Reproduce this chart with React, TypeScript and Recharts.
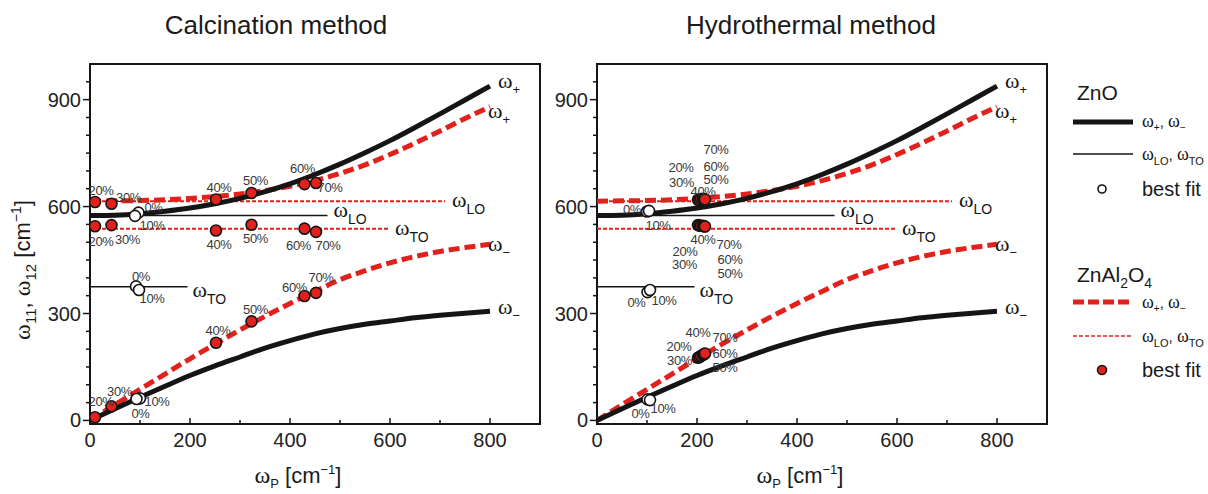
import React from "react";
import { ComposedChart, Line, Scatter, XAxis, YAxis, ReferenceArea } from "recharts";

// plasma frequency grid and coupled mode branches [cm-1]
const omegaP = [0, 50, 100, 150, 200, 250, 300, 350, 400, 450, 500, 550, 600, 650, 700, 750, 800];
const znoPlus = [575, 576, 580, 587, 596, 608, 623, 642, 664, 690, 719, 751, 785, 822, 860, 899, 938];
const znoMinus = [0, 33, 65, 96, 126, 153, 178, 203, 224, 243, 258, 270, 279, 288, 295, 301, 306];
const spinelPlus = [615, 616, 617, 619, 623, 628, 635, 645, 657, 673, 693, 717, 746, 778, 812, 847, 880];
const spinelMinus = [0, 44, 87, 130, 173, 214, 254, 292, 328, 362, 395, 420, 442, 460, 474, 485, 494];

// phonon levels and how far their lines run
const ZNO_LO = 575;
const ZNO_TO = 375;
const SPINEL_LO = 615;
const SPINEL_TO = 538;
const ZNO_LO_END = 475;
const ZNO_TO_END = 195;
const SPINEL_LO_END = 710;
const SPINEL_TO_END = 600;

const xTicks = [0, 100, 200, 300, 400, 500, 600, 700, 800, 900];
const xTickLabels = [0, 200, 400, 600, 800];
const yTicks = [0, 50, 100, 150, 200, 250, 300, 350, 400, 450, 500, 550, 600, 650, 700, 750, 800, 850, 900, 950];
const yTickLabels = [0, 300, 600, 900];

// best fit points, calcination
const calcZnoX = [97, 90, 92, 98, 100, 93];
const calcZnoY = [583, 574, 376, 366, 62, 60];
const calcZnoLabels = ["0%", "10%", "0%", "10%", "10%", "0%"];
const calcSpinelX = [10, 43, 252, 323, 429, 452, 10, 43, 252, 323, 429, 452, 10, 43, 252, 323, 429, 452];
const calcSpinelY = [613, 608, 620, 638, 663, 666, 545, 548, 533, 549, 538, 529, 9, 40, 218, 278, 349, 358];
const spinelLabels = ["20%", "30%", "40%", "50%", "60%", "70%", "20%", "30%", "40%", "50%", "60%", "70%", "20%", "30%", "40%", "50%", "60%", "70%"];

// best fit points, hydrothermal
const hydroZnoX = [100, 104, 101, 106, 101, 106];
const hydroZnoY = [586, 588, 360, 366, 59, 57];
const hydroZnoLabels = ["0%", "10%", "0%", "10%", "0%", "10%"];
const hydroSpinelX = [202, 205, 208, 212, 214, 216, 202, 205, 208, 212, 214, 216, 202, 205, 208, 212, 214, 216];
const hydroSpinelY = [619, 618, 621, 622, 621, 620, 548, 547, 546, 546, 545, 544, 176, 178, 181, 184, 186, 188];

// label shifts (px) of the percentage tags
const calcZnoShift = [[15, -1], [17, 14], [5, -5], [13, 13], [17, 8], [4, 19]];
const calcSpinelShift = [
  [6, -7], [17, -2], [3, -7], [4, -8], [-2, -11], [14, 9],
  [6, 20], [16, 19], [3, 19], [4, 18], [-6, 21], [12, 18],
  [6, -11], [8, -10], [2, -8], [4, -7], [-10, -4], [5, -11],
];
const hydroZnoShift = [[-15, 2], [9, 19], [-11, 15], [14, 15], [-7, 19], [13, 13]];
const hydroSpinelShift = [
  [-17, -28], [-18, -13], [2, -3], [13, -15], [12, -28], [11, -45],
  [-13, 31], [-15, 44], [2, 18], [27, 52], [26, 38], [24, 22],
  [-19, -7], [-20, 8], [-3, -19], [22, 17], [21, 4], [20, -11],
];

const SANS = "'Liberation Sans', Arial, sans-serif";
const NARROW = "'Liberation Sans Narrow', 'Liberation Sans', Arial, sans-serif";
const SERIF = "'Liberation Serif', 'Times New Roman', serif";
const RED = "#e3211c";
const INK = "#151515";

const curve = (ys: number[]) => omegaP.map((x, i) => ({ x, y: ys[i] }));
const level = (y: number, end: number) => [{ x: 0, y }, { x: end, y }];
const fitPoints = (xs: number[], ys: number[], labels: string[], shift: number[][]) =>
  xs.map((x, i) => ({ x, y: ys[i], label: labels[i], dx: shift[i][0], dy: shift[i][1] }));

const last = omegaP.length - 1;
const curveLabels = [
  { x: omegaP[last], y: znoPlus[last], sub: "+", dx: 8, dy: 2 },
  { x: omegaP[last], y: spinelPlus[last], sub: "+", dx: -2, dy: 11 },
  { x: omegaP[last], y: spinelMinus[last], sub: "\u2212", dx: -2, dy: 7 },
  { x: omegaP[last], y: znoMinus[last], sub: "\u2212", dx: 8, dy: 3 },
  { x: ZNO_LO_END, y: ZNO_LO, sub: "LO", dx: 6, dy: 2 },
  { x: SPINEL_LO_END, y: SPINEL_LO, sub: "LO", dx: 7, dy: 6 },
  { x: SPINEL_TO_END, y: SPINEL_TO, sub: "TO", dx: 5, dy: 6 },
  { x: ZNO_TO_END, y: ZNO_TO, sub: "TO", dx: 5, dy: 10 },
];

function XTick(props: any) {
  const { x, y, payload } = props;
  const v = payload.value;
  const major = xTickLabels.includes(v);
  return (
    <g>
      <line x1={x} x2={x} y1={y} y2={y - (major ? 6 : 4)} stroke={INK} strokeWidth={1.5} />
      {major && (
        <text x={x} y={y + 23} textAnchor="middle" fontSize={20} fontFamily={NARROW} fill="#222">
          {v}
        </text>
      )}
    </g>
  );
}

function YTick(props: any) {
  const { x, y, payload } = props;
  const v = payload.value;
  const major = yTickLabels.includes(v);
  return (
    <g>
      <line x1={x} x2={x - (major ? 7 : 4)} y1={y} y2={y} stroke={INK} strokeWidth={1.5} />
      {major && (
        <text x={x - 9} y={y + 7} textAnchor="end" fontSize={20} fontFamily={NARROW} fill="#222">
          {v}
        </text>
      )}
    </g>
  );
}

function Omega({ x, y, sub }: any) {
  const small = sub === "+" || sub === "\u2212";
  return (
    <text x={x} y={y} fill={INK}>
      <tspan fontFamily={SERIF} fontSize={22}>
        {"\u03c9"}
      </tspan>
      <tspan fontFamily={SANS} fontSize={small ? 13 : 14} dy={small ? 6 : 7}>
        {sub}
      </tspan>
    </text>
  );
}

const curveLabelShape = (p: any) => (
  <Omega x={p.cx + p.payload.dx} y={p.cy + p.payload.dy} sub={p.payload.sub} />
);

const fitShape = (fill: string) => (p: any) => (
  <circle cx={p.cx} cy={p.cy} r={5.5} fill={fill} stroke={INK} strokeWidth={1.6} />
);

const tagShape = (p: any) => (
  <text
    x={p.cx + p.payload.dx}
    y={p.cy + p.payload.dy}
    textAnchor="middle"
    fontSize={13}
    fontFamily={NARROW}
    letterSpacing={-0.4}
    fill="#383838"
  >
    {p.payload.label}
  </text>
);

function Panel({ left, zno, spinel }: { left: number; zno: any[]; spinel: any[] }) {
  return (
    <div style={{ position: "absolute", left, top: 0 }}>
      <ComposedChart width={545} height={494} margin={{ top: 64, right: 5, bottom: 30, left: 50 }}>
        <XAxis
          type="number"
          dataKey="x"
          domain={[0, 900]}
          ticks={xTicks}
          interval={0}
          allowDataOverflow
          height={40}
          axisLine={false}
          tickLine={false}
          tickSize={0}
          tickMargin={0}
          tick={(p: any) => <XTick {...p} />}
        />
        <YAxis
          type="number"
          dataKey="y"
          domain={[-10, 1000]}
          ticks={yTicks}
          interval={0}
          allowDataOverflow
          width={40}
          axisLine={false}
          tickLine={false}
          tickSize={0}
          tickMargin={0}
          tick={(p: any) => <YTick {...p} />}
        />
        <ReferenceArea x1={0} x2={900} y1={-10} y2={1000} fill="none" fillOpacity={0} stroke={INK} strokeWidth={2} strokeOpacity={1} />

        <Line data={level(SPINEL_LO, SPINEL_LO_END)} dataKey="y" type="linear" stroke={RED} strokeWidth={2} strokeDasharray="4 2" dot={false} activeDot={false} isAnimationActive={false} />
        <Line data={level(SPINEL_TO, SPINEL_TO_END)} dataKey="y" type="linear" stroke={RED} strokeWidth={2} strokeDasharray="4 2" dot={false} activeDot={false} isAnimationActive={false} />
        <Line data={level(ZNO_LO, ZNO_LO_END)} dataKey="y" type="linear" stroke={INK} strokeWidth={1.5} dot={false} activeDot={false} isAnimationActive={false} />
        <Line data={level(ZNO_TO, ZNO_TO_END)} dataKey="y" type="linear" stroke={INK} strokeWidth={1.5} dot={false} activeDot={false} isAnimationActive={false} />

        <Line data={curve(spinelPlus)} dataKey="y" type="monotone" stroke={RED} strokeWidth={5} strokeDasharray="11 5" dot={false} activeDot={false} isAnimationActive={false} />
        <Line data={curve(spinelMinus)} dataKey="y" type="monotone" stroke={RED} strokeWidth={5} strokeDasharray="11 5" dot={false} activeDot={false} isAnimationActive={false} />
        <Line data={curve(znoPlus)} dataKey="y" type="monotone" stroke={INK} strokeWidth={5} dot={false} activeDot={false} isAnimationActive={false} />
        <Line data={curve(znoMinus)} dataKey="y" type="monotone" stroke={INK} strokeWidth={5} dot={false} activeDot={false} isAnimationActive={false} />

        <Scatter data={curveLabels} dataKey="y" shape={curveLabelShape} isAnimationActive={false} />
        <Scatter data={zno} dataKey="y" shape={fitShape("#ffffff")} isAnimationActive={false} />
        <Scatter data={spinel} dataKey="y" shape={fitShape(RED)} isAnimationActive={false} />
        <Scatter data={zno} dataKey="y" shape={tagShape} isAnimationActive={false} />
        <Scatter data={spinel} dataKey="y" shape={tagShape} isAnimationActive={false} />
      </ComposedChart>
    </div>
  );
}

function Pair({ x, y, a, b }: { x: number; y: number; a: string; b: string }) {
  const small = a === "+";
  const d = small ? 4 : 5;
  return (
    <text x={x} y={y} fill={INK}>
      <tspan fontFamily={SERIF} fontSize={18}>{"\u03c9"}</tspan>
      <tspan fontFamily={SANS} fontSize={small ? 10 : 11} dy={d}>{a}</tspan>
      <tspan fontFamily={SANS} fontSize={15} dy={-d}>{", "}</tspan>
      <tspan fontFamily={SERIF} fontSize={18}>{"\u03c9"}</tspan>
      <tspan fontFamily={SANS} fontSize={small ? 10 : 11} dy={d}>{b}</tspan>
    </text>
  );
}

export default function App() {
  const calcZno = fitPoints(calcZnoX, calcZnoY, calcZnoLabels, calcZnoShift);
  const calcSpinel = fitPoints(calcSpinelX, calcSpinelY, spinelLabels, calcSpinelShift);
  const hydroZno = fitPoints(hydroZnoX, hydroZnoY, hydroZnoLabels, hydroZnoShift);
  const hydroSpinel = fitPoints(hydroSpinelX, hydroSpinelY, spinelLabels, hydroSpinelShift);

  return (
    <div style={{ position: "fixed", left: 0, top: 0, width: 1208, height: 494, background: "#fff", overflow: "hidden" }}>
      <Panel left={0} zno={calcZno} spinel={calcSpinel} />
      <Panel left={507} zno={hydroZno} spinel={hydroSpinel} />

      <svg width={1208} height={494} style={{ position: "absolute", left: 0, top: 0, pointerEvents: "none" }}>
        <g fontFamily={SANS} fill="#1a1a1a">
          <text x={276} y={34} textAnchor="middle" fontSize={26}>Calcination method</text>
          <text x={811} y={34} textAnchor="middle" fontSize={26}>Hydrothermal method</text>

          <text transform="translate(30,270) rotate(-90)" textAnchor="middle" fontSize={22}>
            <tspan fontFamily={SERIF} fontSize={24}>{"\u03c9"}</tspan>
            <tspan fontSize={15} dy={6}>11</tspan>
            <tspan dy={-6}>{", "}</tspan>
            <tspan fontFamily={SERIF} fontSize={24}>{"\u03c9"}</tspan>
            <tspan fontSize={15} dy={6}>12</tspan>
            <tspan dy={-6}>{" [cm"}</tspan>
            <tspan fontSize={14} dy={-9}>{"\u22121"}</tspan>
            <tspan dy={9}>]</tspan>
          </text>

          {[298, 800].map((cx) => (
            <text key={cx} x={cx} y={483} textAnchor="middle" fontSize={22}>
              <tspan fontFamily={SERIF} fontSize={24}>{"\u03c9"}</tspan>
              <tspan fontSize={13} dy={5}>P</tspan>
              <tspan dy={-5}>{" [cm"}</tspan>
              <tspan fontSize={13} dy={-9}>{"\u22121"}</tspan>
              <tspan dy={9}>]</tspan>
            </text>
          ))}

          <text x={1077} y={100} fontSize={21}>ZnO</text>
          <line x1={1073} x2={1133} y1={122} y2={122} stroke={INK} strokeWidth={5} />
          <Pair x={1142} y={127} a="+" b={"\u2212"} />
          <line x1={1073} x2={1133} y1={154} y2={154} stroke={INK} strokeWidth={1.5} />
          <Pair x={1142} y={160} a="LO" b="TO" />
          <circle cx={1102} cy={189} r={4} fill="#fff" stroke={INK} strokeWidth={1.6} />
          <text x={1142} y={196} fontSize={20}>best fit</text>

          <text x={1077} y={282} fontSize={21}>
            ZnAl<tspan fontSize={14} dy={6}>2</tspan>
            <tspan dy={-6}>O</tspan>
            <tspan fontSize={14} dy={6}>4</tspan>
          </text>
          <line x1={1073} x2={1133} y1={302} y2={302} stroke={RED} strokeWidth={5} strokeDasharray="11 4" />
          <Pair x={1142} y={308} a="+" b={"\u2212"} />
          <line x1={1073} x2={1133} y1={336} y2={336} stroke={RED} strokeWidth={1.5} strokeDasharray="4 2" />
          <Pair x={1142} y={342} a="LO" b="TO" />
          <circle cx={1102} cy={370} r={4.5} fill={RED} stroke={INK} strokeWidth={1.6} />
          <text x={1142} y={377} fontSize={20}>best fit</text>
        </g>
      </svg>
    </div>
  );
}
